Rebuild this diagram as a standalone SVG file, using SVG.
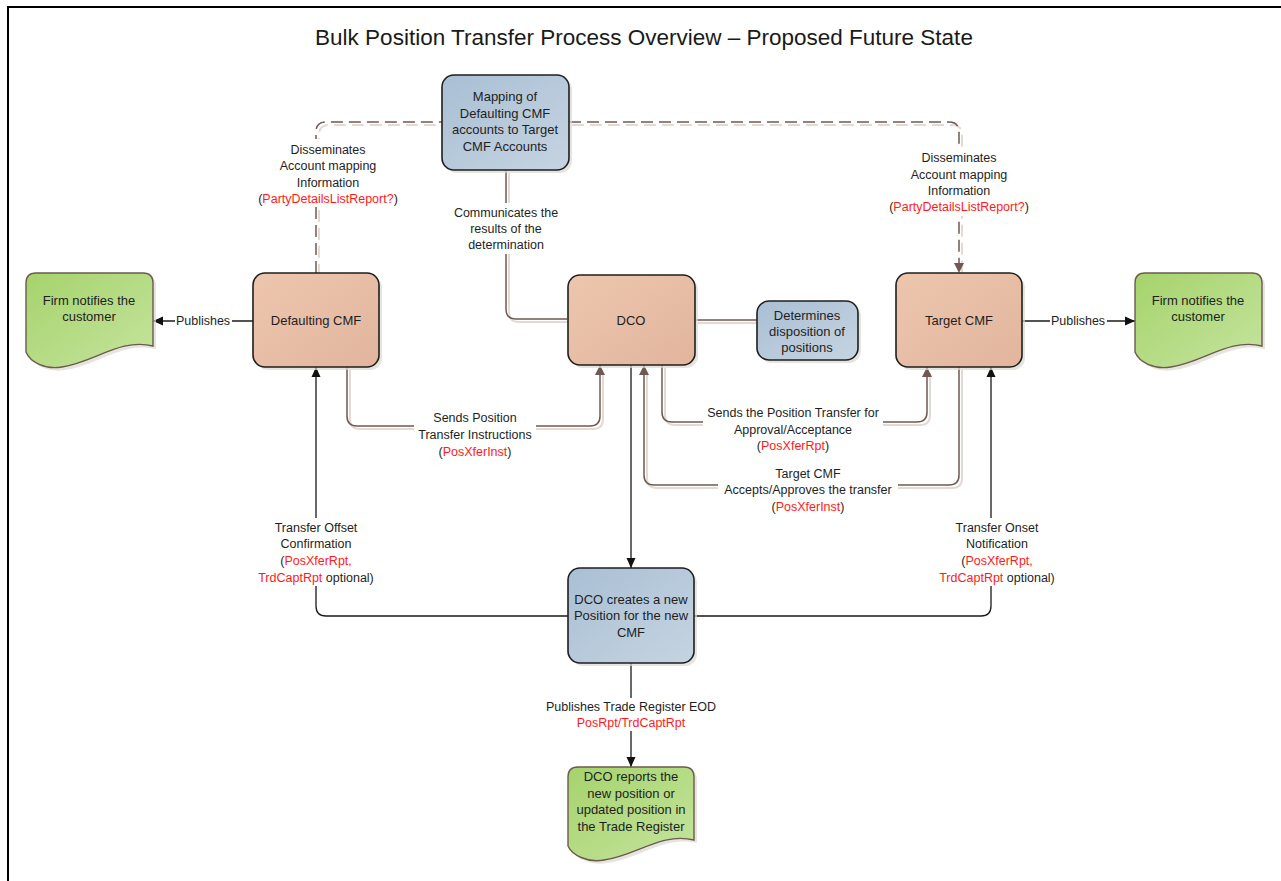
<svg xmlns="http://www.w3.org/2000/svg" width="1281" height="881" viewBox="0 0 1281 881">
<style>
text{font-family:"Liberation Sans",Arial,sans-serif;fill:#1e1e1e;text-anchor:middle}
.nt{font-size:13px}
.lt{font-size:12.5px}
.title{font-size:22.5px;fill:#1a1a1a}
.red{fill:#ff1a1a}
.sh{fill:#dcd8d0;opacity:.7}
.blue{fill:url(#gBlue);stroke:#1e1e1e;stroke-width:1.6}
.orange{fill:url(#gOrange);stroke:#1e1e1e;stroke-width:1.6}
.green{fill:url(#gGreen);stroke:#6b5a4e;stroke-width:1.4}
.br{fill:none;stroke:#6e5a52;stroke-width:1.5}
.brs{fill:none;stroke:#e4d9d5;stroke-width:2}
.dash{stroke-dasharray:12 6}
.bk{fill:none;stroke:#1a1a1a;stroke-width:1.3}
.bg{fill:#fff}
</style>
<defs>
<linearGradient id="gBlue" x1="0" y1="0" x2="1" y2="1"><stop offset="0" stop-color="#a9bfd4"/><stop offset="1" stop-color="#c6d4e1"/></linearGradient>
<linearGradient id="gOrange" x1="0" y1="0" x2="1" y2="1"><stop offset="0" stop-color="#edc6ae"/><stop offset="1" stop-color="#e2b59d"/></linearGradient>
<linearGradient id="gGreen" x1="0" y1="0" x2="1" y2="1"><stop offset="0" stop-color="#a6d36c"/><stop offset="1" stop-color="#c5e49e"/></linearGradient>
<marker id="aBr" markerUnits="userSpaceOnUse" markerWidth="12" markerHeight="10" refX="10" refY="5" orient="auto"><path d="M0,0 L10,5 L0,10 z" fill="#6e5a52"/></marker>
<marker id="aBk" markerUnits="userSpaceOnUse" markerWidth="12" markerHeight="10" refX="10" refY="5" orient="auto"><path d="M0,0.5 L10,5 L0,9.5 z" fill="#111"/></marker>
</defs>
<rect x="0" y="0" width="1281" height="881" fill="#fff"/>
<rect x="8" y="7" width="1300" height="900" fill="none" stroke="#000" stroke-width="2"/>
<text class="title" x="644" y="45">Bulk Position Transfer Process Overview – Proposed Future State</text>

<g id="connectors">
  <g transform="translate(3,3)">
    <path class="brs dash" d="M316,273 V132 Q316,122 326,122 H442"/>
    <path class="brs dash" d="M569,122 H949 Q959,122 959,132 V270"/>
    <path class="brs" d="M506,170 V309 Q506,319 516,319 H567"/>
    <path class="brs" d="M695,320 H757"/>
    <path class="brs" d="M347,367 V416 Q347,426 357,426 H590 Q600,426 600,416 V370"/>
    <path class="brs" d="M662,365 V412 Q662,422 672,422 H917 Q927,422 927,412 V370"/>
    <path class="brs" d="M959,367 V475 Q959,485 949,485 H654 Q644,485 644,475 V370"/>
  </g>
  <path class="br dash" d="M316,273 V132 Q316,122 326,122 H442"/>
  <path class="br dash" d="M569,122 H949 Q959,122 959,132 V273" marker-end="url(#aBr)"/>
  <path class="br" d="M506,170 V309 Q506,319 516,319 H567"/>
  <path class="br" d="M695,320 H757"/>
  <path class="br" d="M347,367 V416 Q347,426 357,426 H590 Q600,426 600,416 V365" marker-end="url(#aBr)"/>
  <path class="br" d="M662,365 V412 Q662,422 672,422 H917 Q927,422 927,412 V367" marker-end="url(#aBr)"/>
  <path class="br" d="M959,367 V475 Q959,485 949,485 H654 Q644,485 644,475 V365" marker-end="url(#aBr)"/>
  <path class="bk" d="M631,365 V568" marker-end="url(#aBk)"/>
  <path class="bk" d="M568,616 H326 Q316,616 316,606 V367" marker-end="url(#aBk)"/>
  <path class="bk" d="M694,616 H981 Q991,616 991,606 V367" marker-end="url(#aBk)"/>
  <path class="bk" d="M631,663 V767" marker-end="url(#aBk)"/>
  <path class="bk" d="M253,321 H153" marker-end="url(#aBk)"/>
  <path class="bk" d="M1022,321 H1135" marker-end="url(#aBk)"/>

  <g class="lt">
    <rect class="bg" x="254" y="139" width="150" height="68"/>
    <text x="328" y="153.5">Disseminates</text>
    <text x="328" y="170">Account mapping</text>
    <text x="328" y="186.5">Information</text>
    <text x="328" y="203">(<tspan class="red">PartyDetailsListReport?</tspan>)</text>

    <rect class="bg" x="884" y="148" width="150" height="68"/>
    <text x="959" y="162">Disseminates</text>
    <text x="959" y="178.5">Account mapping</text>
    <text x="959" y="195">Information</text>
    <text x="959" y="211">(<tspan class="red">PartyDetailsListReport?</tspan>)</text>

    <rect class="bg" x="448" y="203" width="116" height="51"/>
    <text x="506" y="216.5">Communicates the</text>
    <text x="506" y="233">results of the</text>
    <text x="506" y="249">determination</text>

    <rect class="bg" x="175" y="312" width="57" height="17"/>
    <text x="203" y="325">Publishes</text>
    <rect class="bg" x="1050" y="312" width="57" height="17"/>
    <text x="1078" y="325">Publishes</text>

    <rect class="bg" x="414" y="409" width="122" height="51"/>
    <text x="475" y="422">Sends Position</text>
    <text x="475" y="439">Transfer Instructions</text>
    <text x="475" y="456">(<tspan class="red">PosXferInst</tspan>)</text>

    <rect class="bg" x="703" y="404" width="180" height="50"/>
    <text x="793" y="417">Sends the Position Transfer for</text>
    <text x="793" y="433.5">Approval/Acceptance</text>
    <text x="793" y="450">(<tspan class="red">PosXferRpt</tspan>)</text>

    <rect class="bg" x="718" y="465" width="180" height="50"/>
    <text x="808" y="477.5">Target CMF</text>
    <text x="808" y="494">Accepts/Approves the transfer</text>
    <text x="808" y="511">(<tspan class="red">PosXferInst</tspan>)</text>

    <rect class="bg" x="254" y="518" width="124" height="68"/>
    <text x="316" y="531.5">Transfer Offset</text>
    <text x="316" y="548">Confirmation</text>
    <text x="316" y="565">(<tspan class="red">PosXferRpt,</tspan></text>
    <text x="316" y="582"><tspan class="red">TrdCaptRpt</tspan> optional)</text>

    <rect class="bg" x="935" y="518" width="124" height="68"/>
    <text x="997" y="531.5">Transfer Onset</text>
    <text x="997" y="548">Notification</text>
    <text x="997" y="565">(<tspan class="red">PosXferRpt,</tspan></text>
    <text x="997" y="582"><tspan class="red">TrdCaptRpt</tspan> optional)</text>

    <rect class="bg" x="543" y="698" width="176" height="33"/>
    <text x="631" y="711">Publishes Trade Register EOD</text>
    <text x="631" y="727" class="red">PosRpt/TrdCaptRpt</text>
  </g>
</g>

<g id="mapping">
  <rect class="sh" x="445" y="78" width="127" height="95" rx="12"/>
  <rect class="blue" x="442" y="75" width="127" height="95" rx="12"/>
  <text class="nt" x="505" y="101">Mapping of</text>
  <text class="nt" x="505" y="118">Defaulting CMF</text>
  <text class="nt" x="505" y="134">accounts to Target</text>
  <text class="nt" x="505" y="151">CMF Accounts</text>
</g>

<g id="defaulting-cmf">
  <rect class="sh" x="256" y="276" width="126" height="94" rx="12"/>
  <rect class="orange" x="253" y="273" width="126" height="94" rx="12"/>
  <text class="nt" x="316" y="325">Defaulting CMF</text>
</g>

<g id="dco">
  <rect class="sh" x="571" y="278" width="127" height="90" rx="12"/>
  <rect class="orange" x="568" y="275" width="127" height="90" rx="12"/>
  <text class="nt" x="631" y="325">DCO</text>
</g>

<g id="determines">
  <rect class="sh" x="760" y="304" width="101" height="59" rx="12"/>
  <rect class="blue" x="757" y="301" width="101" height="59" rx="12"/>
  <text class="nt" x="807" y="319.5">Determines</text>
  <text class="nt" x="807" y="336">disposition of</text>
  <text class="nt" x="807" y="352">positions</text>
</g>

<g id="target-cmf">
  <rect class="sh" x="899" y="276" width="126" height="94" rx="12"/>
  <rect class="orange" x="896" y="273" width="126" height="94" rx="12"/>
  <text class="nt" x="959" y="325">Target CMF</text>
</g>

<g id="firm-left">
  <path class="sh" transform="translate(3,3)" d="M36,273 H143 Q153,273 153,283 V346 C120,338 95,362 62,367 C45,370 30,362 26,352 V283 Q26,273 36,273 z"/>
  <path class="green" d="M36,273 H143 Q153,273 153,283 V346 C120,338 95,362 62,367 C45,370 30,362 26,352 V283 Q26,273 36,273 z"/>
  <text class="nt" x="89" y="304.5">Firm notifies the</text>
  <text class="nt" x="89" y="321">customer</text>
</g>

<g id="firm-right">
  <path class="sh" transform="translate(3,3)" d="M1145,273 H1252 Q1262,273 1262,283 V346 C1229,338 1204,362 1171,367 C1154,370 1139,362 1135,352 V283 Q1135,273 1145,273 z"/>
  <path class="green" d="M1145,273 H1252 Q1262,273 1262,283 V346 C1229,338 1204,362 1171,367 C1154,370 1139,362 1135,352 V283 Q1135,273 1145,273 z"/>
  <text class="nt" x="1198" y="304.5">Firm notifies the</text>
  <text class="nt" x="1198" y="321">customer</text>
</g>

<g id="dco-creates">
  <rect class="sh" x="571" y="571" width="126" height="95" rx="12"/>
  <rect class="blue" x="568" y="568" width="126" height="95" rx="12"/>
  <text class="nt" x="631" y="603.5">DCO creates a new</text>
  <text class="nt" x="631" y="620">Position for the new</text>
  <text class="nt" x="631" y="636.5">CMF</text>
</g>

<g id="dco-reports">
  <path class="sh" transform="translate(3,3)" d="M578,767 H684 Q694,767 694,777 V840 C661,832 636,856 604,860 C587,863 572,855 568,846 V777 Q568,767 578,767 z"/>
  <path class="green" d="M578,767 H684 Q694,767 694,777 V840 C661,832 636,856 604,860 C587,863 572,855 568,846 V777 Q568,767 578,767 z"/>
  <text class="nt" x="631" y="781">DCO reports the</text>
  <text class="nt" x="631" y="798">new position or</text>
  <text class="nt" x="631" y="814">updated position in</text>
  <text class="nt" x="631" y="831">the Trade Register</text>
</g>
</svg>
